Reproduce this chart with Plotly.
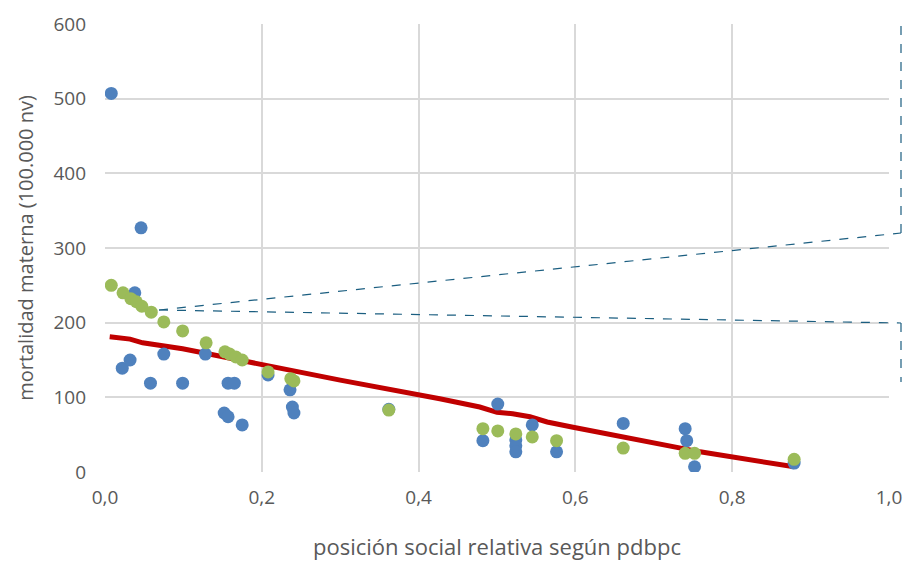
import plotly.graph_objects as go

# Blue series (observed)
blue_x = [0.008, 0.046, 0.038, 0.022, 0.032, 0.058, 0.075, 0.099, 0.128, 0.157, 0.165,
          0.152, 0.157, 0.175, 0.208, 0.236, 0.239, 0.241, 0.362,
          0.482, 0.501, 0.524, 0.524, 0.524, 0.545, 0.576, 0.661, 0.740, 0.742, 0.752, 0.879]
blue_y = [507, 327, 240, 139, 150, 119, 158, 119, 158, 119, 119,
          79, 74, 63, 130, 110, 87, 79, 84,
          42, 91, 43, 35, 27, 63, 27, 65, 58, 42, 7, 12]

# Green series (adjusted)
green_x = [0.008, 0.023, 0.033, 0.040, 0.047, 0.059, 0.075, 0.099, 0.129, 0.153, 0.159,
           0.167, 0.175, 0.208, 0.237, 0.241, 0.362,
           0.482, 0.501, 0.524, 0.545, 0.576, 0.661, 0.740, 0.752, 0.879]
green_y = [250, 240, 232, 228, 222, 214, 201, 189, 173, 161, 158,
           154, 150, 134, 125, 122, 83,
           58, 55, 51, 47, 42, 32, 25, 25, 17]

# Red line
red_x = [0.006, 0.032, 0.048, 0.066, 0.079, 0.099, 0.128, 0.151, 0.176, 0.207, 0.236, 0.245,
         0.300, 0.427, 0.478, 0.500, 0.520, 0.542, 0.564, 0.597, 0.682, 0.737, 0.759, 0.879]
red_y = [181, 178, 173, 170, 169, 165, 159, 154, 149, 142, 137, 135,
         123, 98, 87, 80, 78, 74, 67, 60, 43, 32, 27, 7]

y_ticks = [0, 100, 200, 300, 400, 500, 600]

fig = go.Figure()
fig.add_trace(go.Scatter(x=red_x, y=red_y, mode="lines",
                         line=dict(color="#C00000", width=5), showlegend=False))
fig.add_trace(go.Scatter(x=blue_x, y=blue_y, mode="markers",
                         marker=dict(color="#4F81BD", size=13), showlegend=False))
fig.add_trace(go.Scatter(x=green_x, y=green_y, mode="markers",
                         marker=dict(color="#9BBB59", size=13), showlegend=False))

W, H = 903, 564
L, R, T, B = 105, 889, 24, 472

def px(xpage):
    return (xpage - L) / (R - L)

def py(ypage):
    return (B - ypage) / (B - T)

dash = dict(color="#1B5E80", width=1.2, dash="dash")
sx, sy = 159, 310
fig.add_shape(type="line", xref="paper", yref="paper", x0=px(sx), y0=py(sy), x1=px(901), y1=py(233), line=dash)
fig.add_shape(type="line", xref="paper", yref="paper", x0=px(901), y0=py(233), x1=px(901), y1=py(25), line=dash)
fig.add_shape(type="line", xref="paper", yref="paper", x0=px(sx), y0=py(sy), x1=px(901), y1=py(323), line=dash)
fig.add_shape(type="line", xref="paper", yref="paper", x0=px(901), y0=py(323), x1=px(901), y1=py(382), line=dash)

font_family = "Open Sans, sans-serif"
fig.update_layout(
    width=W, height=H,
    margin=dict(l=L, r=W - R, t=T, b=H - B),
    plot_bgcolor="white", paper_bgcolor="white",
    separators=",.",
    font=dict(family=font_family, color="#595959", size=19),
    xaxis=dict(range=[0, 1.0], dtick=0.2, tick0=0, tickformat=".1f",
               showgrid=True, gridcolor="#D9D9D9", gridwidth=1.5,
               zeroline=False, showline=False, ticks="", ticklabelstandoff=12,
               title=dict(text="posición social relativa según pdbpc", standoff=30,
                          font=dict(size=22, color="#595959")),
               automargin=False),
    yaxis=dict(range=[0, 600], tickvals=y_ticks,
               showgrid=True, gridcolor="#D9D9D9", gridwidth=1.5,
               zeroline=False, showline=False, ticks="", ticklabelstandoff=18,
               title=dict(text="mortalidad materna (100.000 nv)", standoff=14,
                          font=dict(size=20, color="#595959")),
               automargin=False),
)

fig.write_html(
    "out.html",
    config={"displayModeBar": False},
    post_script="document.body.style.margin='0';document.documentElement.style.overflow='hidden';document.body.style.overflow='hidden';",
)
